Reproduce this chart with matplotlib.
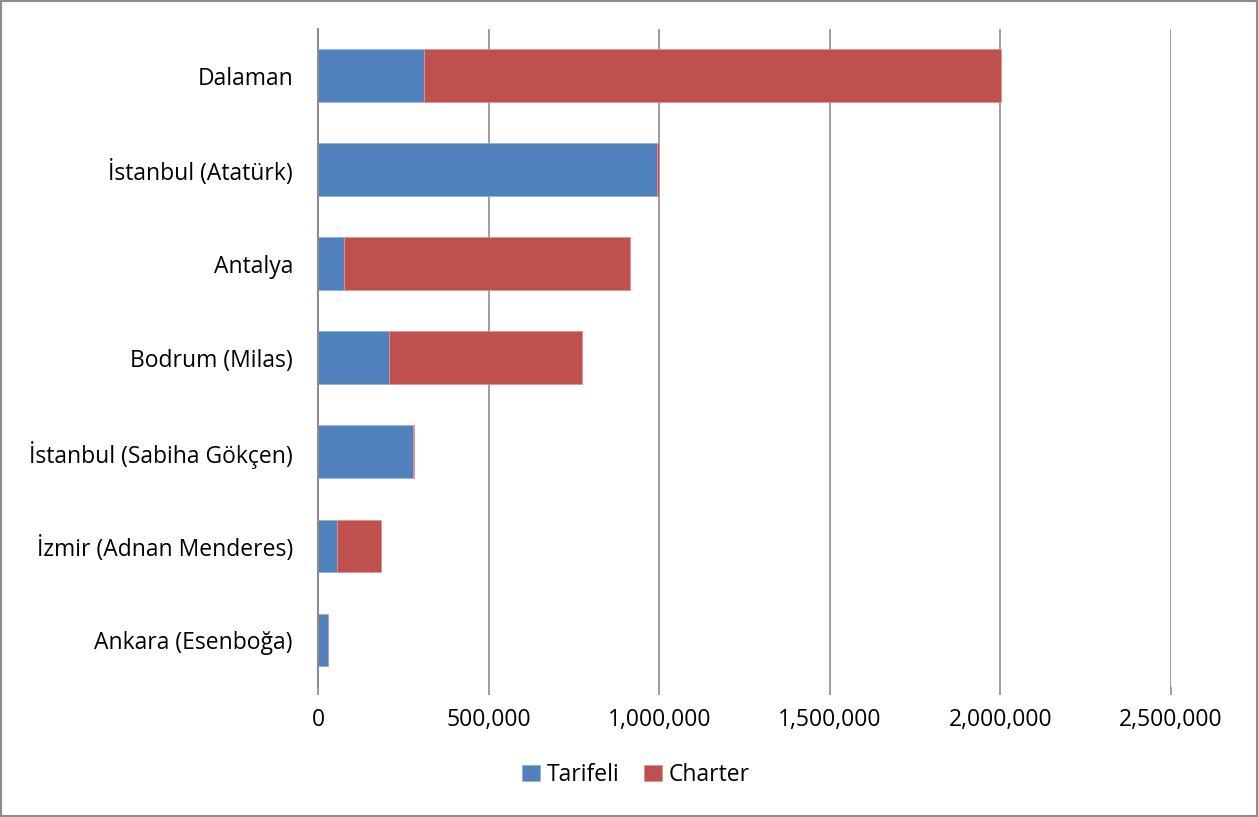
import matplotlib.pyplot as plt
from matplotlib.patches import Rectangle
from matplotlib.ticker import FuncFormatter

airports = ["Dalaman", "İstanbul (Atatürk)", "Antalya", "Bodrum (Milas)",
            "İstanbul (Sabiha Gökçen)", "İzmir (Adnan Menderes)", "Ankara (Esenboğa)"]
tarifeli = [311000, 995000, 75000, 209000, 279000, 57000, 29000]
charter = [1690000, 4000, 840000, 564000, 2000, 128000, 0]

plt.rcParams['font.family'] = ['Open Sans', 'DejaVu Sans']

fig = plt.figure(figsize=(12.58, 8.17), dpi=100)
ax = fig.add_axes([318 / 1258, 1 - 687 / 817, (1171 - 318) / 1258, (687 - 28.5) / 817])

y = list(range(len(airports)))[::-1]
ax.barh(y, tarifeli, height=0.56, color='#4F81BD', edgecolor='#95B3D7', linewidth=0.6,
        label='Tarifeli', zorder=3)
ax.barh(y, charter, left=tarifeli, height=0.56, color='#C0504D', edgecolor='#D99694',
        linewidth=0.6, label='Charter', zorder=3)

ax.set_xlim(0, 2500000)
ax.set_ylim(-0.5, len(airports) - 0.5)
ax.set_xticks(range(0, 2500001, 500000))
ax.xaxis.set_major_formatter(FuncFormatter(lambda v, p: f"{int(v):,}"))
ax.set_yticks(y)
ax.set_yticklabels(airports)
ax.tick_params(axis='y', length=0, pad=18, labelsize=16.5)
ax.tick_params(axis='x', length=6, width=1.2, color='#8C8C8C', pad=9, labelsize=16.5)
ax.grid(axis='x', color='#8C8C8C', linewidth=1.2, zorder=0)

for s in ['top', 'right', 'bottom']:
    ax.spines[s].set_visible(False)
ax.spines['left'].set_color('#8C8C8C')
ax.spines['left'].set_linewidth(1.5)
ax.spines['left'].set_zorder(4)

fig.legend(loc='center', bbox_to_anchor=(636 / 1258, 1 - 775 / 817), ncol=2, frameon=False,
           fontsize=16.5, handlelength=0.75, handleheight=0.75, handletextpad=0.3,
           columnspacing=1.1)

fig.patches.append(Rectangle((0.001, 0.001), 0.998, 0.998, transform=fig.transFigure,
                             fill=False, edgecolor='#8C8C8C', linewidth=1.5))

fig.savefig('out.png', dpi=100)
